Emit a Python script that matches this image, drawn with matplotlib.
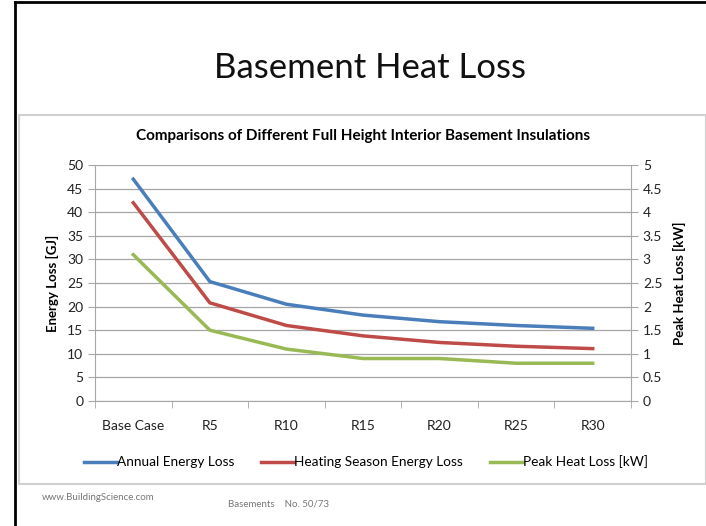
import matplotlib.pyplot as plt
from matplotlib.patches import Rectangle
from matplotlib.lines import Line2D

# data
categories = ["Base Case", "R5", "R10", "R15", "R20", "R25", "R30"]
annual_gj = [47.0, 25.3, 20.5, 18.2, 16.8, 16.0, 15.4]
heating_gj = [42.0, 20.8, 16.0, 13.8, 12.4, 11.6, 11.1]
peak_kw = [3.1, 1.5, 1.1, 0.9, 0.9, 0.8, 0.8]

left_ticks = [0, 5, 10, 15, 20, 25, 30, 35, 40, 45, 50]
right_ticks = [0, 0.5, 1, 1.5, 2, 2.5, 3, 3.5, 4, 4.5, 5]
right_labels = ["0", "0.5", "1", "1.5", "2", "2.5", "3", "3.5", "4", "4.5", "5"]

BLUE = "#4a7ebb"
RED = "#be4b48"
GREEN = "#98b954"
GRID = "#a6a6a6"
FONT = ["Lato", "DejaVu Sans"]

plt.rcParams["font.family"] = FONT

W, H = 706, 526
fig = plt.figure(figsize=(W / 100, H / 100), dpi=100)


def fx(px):
    return px / W


def fy(py):
    return 1 - py / H


# slide border (left and top black lines)
fig.add_artist(Line2D([fx(15), fx(15)], [fy(2), fy(526)], color="black", lw=2, zorder=-2))
fig.add_artist(Line2D([fx(15), fx(706)], [fy(2), fy(2)], color="black", lw=2, zorder=-2))

# chart frame, kept behind the axes
fig.add_artist(Rectangle((fx(19), fy(484)), fx(706) - fx(19), fy(115) - fy(484),
                         facecolor="white", edgecolor="#d0d0d0", lw=1.5, zorder=-1))

fig.text(fx(370), fy(68), "Basement Heat Loss", ha="center", va="center",
         fontsize=25, color="#111111")

ax = fig.add_axes([fx(95), fy(401), fx(631) - fx(95), fy(165) - fy(401)])
ax.set_facecolor("none")
x = list(range(len(categories)))

ax.plot(x, annual_gj, color=BLUE, lw=2.5, label="Annual Energy Loss")
ax.plot(x, heating_gj, color=RED, lw=2.5, label="Heating Season Energy Loss")
ax.set_xlim(-0.5, len(categories) - 0.5)
ax.set_ylim(0, 50)
ax.set_yticks(left_ticks)
ax.set_xticks(x)
ax.set_xticklabels(categories)
ax.set_xticks([i + 0.5 for i in range(-1, len(categories))], minor=True)
ax.tick_params(axis="x", which="major", length=0, pad=14, labelsize=10, colors="#222222")
ax.tick_params(axis="x", which="minor", length=5, color=GRID, direction="out")
ax.tick_params(axis="y", length=5, color=GRID, labelsize=10, colors="#222222")
ax.yaxis.grid(True, color=GRID, lw=0.9)
ax.set_axisbelow(True)
for s in ["top", "right"]:
    ax.spines[s].set_visible(False)
for s in ["left", "bottom"]:
    ax.spines[s].set_color(GRID)
ax.set_ylabel("Energy Loss [GJ]", fontsize=9.5, fontweight="bold", labelpad=6)
ax.set_title("Comparisons of Different Full Height Interior Basement Insulations",
             fontsize=11, fontweight="bold", pad=18)

ax2 = ax.twinx()
ax2.plot(x, peak_kw, color=GREEN, lw=2.5, label="Peak Heat Loss [kW]")
ax2.set_ylim(0, 5)
ax2.set_yticks(right_ticks)
ax2.set_yticklabels(right_labels)
ax2.tick_params(axis="y", length=5, color=GRID, labelsize=10, colors="#222222")
for s in ["top", "left", "bottom"]:
    ax2.spines[s].set_visible(False)
ax2.spines["right"].set_color(GRID)
ax2.set_ylabel("Peak Heat Loss [kW]", fontsize=9.5, fontweight="bold", labelpad=8)

handles = ax.get_lines() + ax2.get_lines()
fig.legend(handles, [h.get_label() for h in handles], loc="center",
           bbox_to_anchor=(fx(366), fy(462)), ncol=3, frameon=False,
           fontsize=9.8, handlelength=2.4, handletextpad=0.0, columnspacing=2.0)

fig.text(fx(42), fy(498), "www.BuildingScience.com", fontsize=7, color="#777777", va="center")
fig.text(fx(228), fy(504), "Basements    No. 50/73", fontsize=7, color="#777777", va="center")

fig.savefig("out.png", dpi=100)
